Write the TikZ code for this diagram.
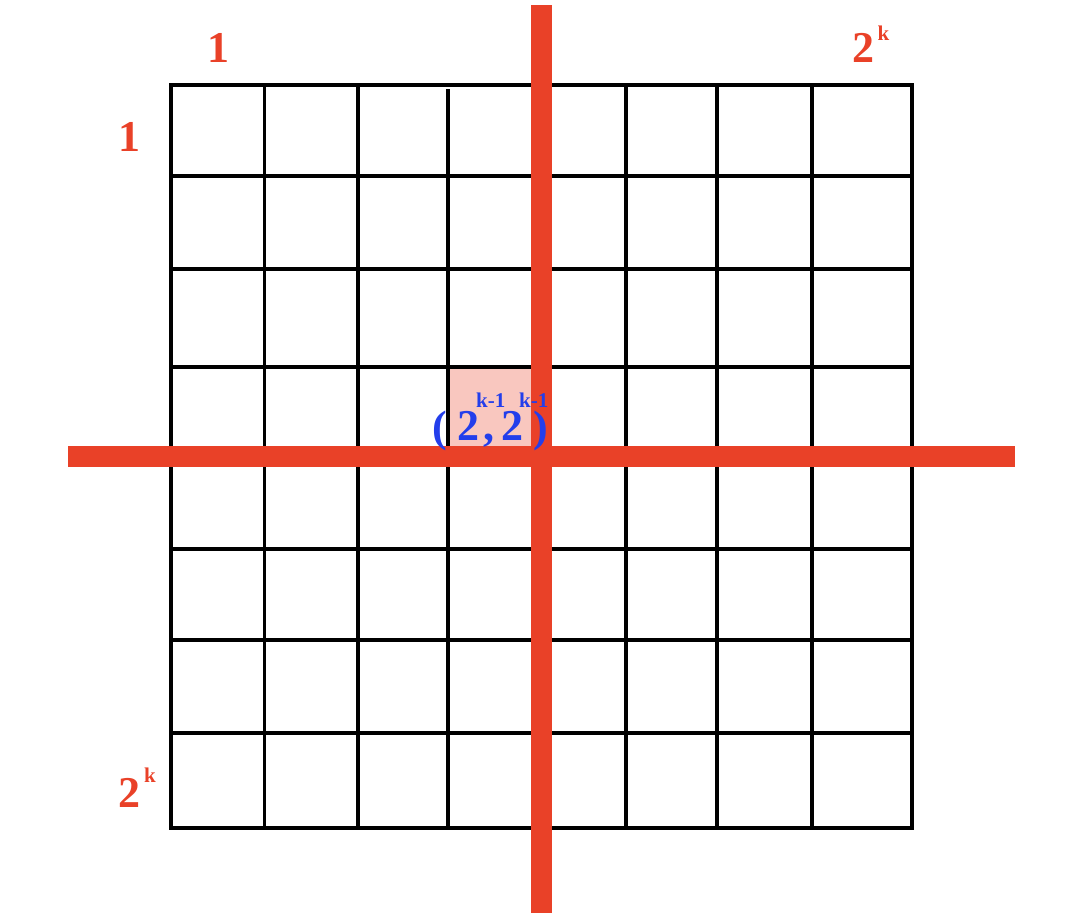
\documentclass[tikz,border=0pt]{standalone}
\usepackage{fontspec}
\setmainfont{Liberation Serif}
\definecolor{barred}{RGB}{233,65,40}
\definecolor{cellpink}{RGB}{249,199,191}
\definecolor{lblblue}{RGB}{35,62,235}
\newcommand\placeglyph[3]{\rlap{\hspace*{#1}\raisebox{#2}{\makebox[0pt]{#3}}}}
\newcommand\supfont{\fontsize{21}{21}\selectfont}
\begin{document}
\begin{tikzpicture}[x=1pt,y=-1pt,
  gridline/.style={line width=3.2pt,black},
  redbar/.style={line width=21pt,barred},
  big/.style={inner sep=0pt,anchor=base,font=\fontsize{44}{44}\selectfont\bfseries},
  small/.style={inner sep=0pt,anchor=base,font=\fontsize{21}{21}\selectfont\bfseries},
  redlbl/.style={text=barred},
  bluelbl/.style={text=lblblue}]
\useasboundingbox (0,0) rectangle (1078,922);
% highlighted cell
\fill[cellpink] (448,367) rectangle (541,457);
% grid
\foreach \x in {264.5,358,626,717,812}
  \draw[gridline] (\x,85) -- (\x,828);
\draw[gridline] (448,89) -- (448,828);
\foreach \y in {176,269,367,549,640,733}
  \draw[gridline] (171,\y) -- (912,\y);
\draw[gridline] (171,85) rectangle (912,828);
% red bars
\draw[redbar] (541,5) -- (541,913);
\draw[redbar] (68,456.5) -- (1015,456.5);
% axis labels
\node[big,redlbl] (top1) at (218,62) {1};
\node[big,redlbl] (left1) at (129.5,151) {1};
\node[big,redlbl] (top2) at (863,62) {2};
\node[small,redlbl] (topk) at (883.5,40) {k};
\node[big,redlbl] (bot2) at (129.5,807) {2};
\node[small,redlbl] (botk) at (150,782) {k};
% coordinate label (2^{k-1}, 2^{k-1})
\node[big,bluelbl,anchor=base west] (coord) at (439,440)
  {\placeglyph{0pt}{-1pt}{(}\placeglyph{29pt}{0pt}{2}\placeglyph{49pt}{0pt}{,}%
   \placeglyph{73pt}{0pt}{2}\placeglyph{101pt}{-1pt}{)}%
   \placeglyph{51pt}{33pt}{\supfont k-1}\placeglyph{94pt}{33pt}{\supfont k-1}};
\end{tikzpicture}
\end{document}
